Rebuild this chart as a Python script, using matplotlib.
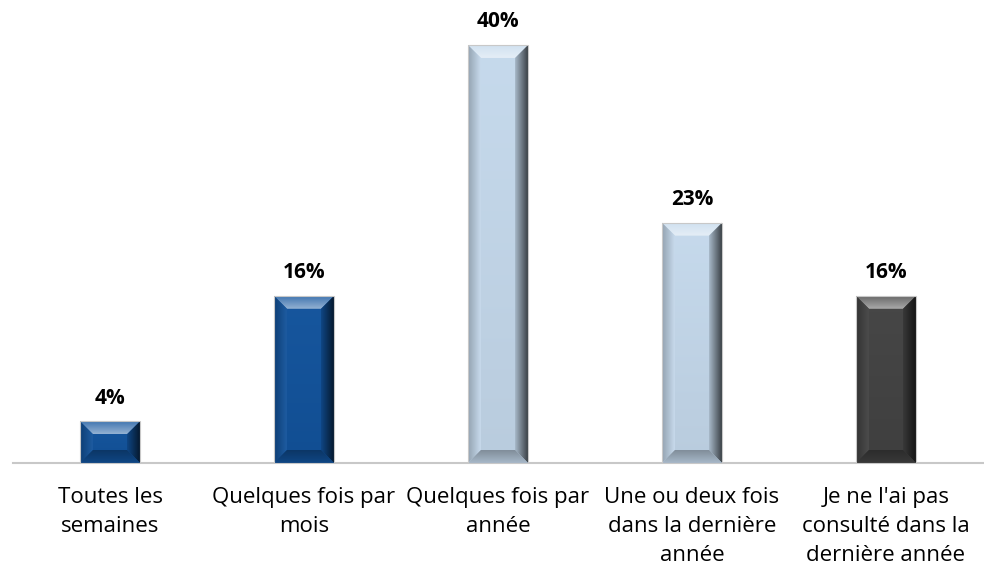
import numpy as np
import matplotlib
matplotlib.use("Agg")
import matplotlib.pyplot as plt
from matplotlib.patches import Polygon
from matplotlib.colors import to_rgb

categories = ["Toutes les\nsemaines", "Quelques fois par\nmois", "Quelques fois par\nannée",
              "Une ou deux fois\ndans la dernière\nannée", "Je ne l'ai pas\nconsulté dans la\ndernière année"]
values = [4, 16, 40, 23, 16]
labels = ["4%", "16%", "40%", "23%", "16%"]
colors = ["#12539C", "#12539C", "#C5D9EC", "#C5D9EC", "#434343"]

plt.rcParams['font.family'] = ['Open Sans', 'DejaVu Sans']

fig = plt.figure(figsize=(9.84, 5.72), dpi=100)
ax = fig.add_axes([13/984, (572-463)/572, 970/984, 463/572])
x = np.arange(len(values))
bars = ax.bar(x, values, width=0.31, color=colors, zorder=2)
ax.set_xlim(-0.5, len(values) - 0.5)
ax.set_ylim(0, 44.3)
fig.canvas.draw()

def mix(c, t, a):
    c = np.array(to_rgb(c)); t = np.array(to_rgb(t))
    return tuple(c * (1 - a) + t * a)

def grad_face(poly, c1, c2, horizontal, z):
    p = Polygon(poly, closed=True, facecolor='none', edgecolor='none', transform=ax.transData)
    ax.add_patch(p)
    xs = [q[0] for q in poly]; ys = [q[1] for q in poly]
    n = 64
    t = np.linspace(0, 1, n)
    col = np.array([mix(c1, c2, v) for v in t])
    if horizontal:
        img = col[np.newaxis, :, :]
    else:
        img = col[::-1][:, np.newaxis, :]
    im = ax.imshow(img, extent=[min(xs), max(xs), min(ys), max(ys)], aspect='auto',
                   interpolation='bilinear', zorder=z)
    im.set_clip_path(p)

inv = ax.transData.inverted()
px_x = (inv.transform((13, 0)) - inv.transform((0, 0)))[0]
px_y = (inv.transform((0, 13)) - inv.transform((0, 0)))[1]

for b, c in zip(bars, colors):
    b.set_visible(False)
    x0, y0, w, h = b.get_x(), b.get_y(), b.get_width(), b.get_height()
    x1, y1 = x0 + w, y0 + h
    bx = min(px_x, w / 3)
    by = min(px_y, h / 3)
    grad_face([(x0, y0), (x1, y0), (x1, y1), (x0, y1)], mix(c, 'black', 0.06), mix(c, 'white', 0.02), False, 3)
    grad_face([(x0, y1), (x1, y1), (x1 - bx, y1 - by), (x0 + bx, y1 - by)],
              mix(c, 'white', 0.55), mix(c, 'white', 0.2), False, 4)
    grad_face([(x0, y0), (x0 + bx, y0 + by), (x0 + bx, y1 - by), (x0, y1)],
              mix(c, 'black', 0.25), mix(c, 'white', 0.05), True, 4)
    grad_face([(x1, y0), (x1, y1), (x1 - bx, y1 - by), (x1 - bx, y0 + by)],
              mix(c, 'black', 0.15), mix(c, 'black', 0.7), True, 4)
    grad_face([(x0, y0), (x1, y0), (x1 - bx, y0 + by), (x0 + bx, y0 + by)],
              mix(c, 'black', 0.15), mix(c, 'black', 0.35), False, 4)
    ax.add_patch(Polygon([(x0, y0), (x1, y0), (x1, y1), (x0, y1)], closed=True,
                         facecolor='none', edgecolor='#C8C8C8', lw=0.8, zorder=5))

for xi, v, lab in zip(x, values, labels):
    ax.annotate(lab, (xi, v), xytext=(0, 9), textcoords='offset points',
                ha='center', va='bottom', fontsize=15, fontweight='bold', color='black')

ax.set_xticks(x)
ax.set_xticklabels(categories, fontsize=16, linespacing=1.52, color='black')
ax.tick_params(axis='x', length=0, pad=17)
ax.set_yticks([])
for s in ['top', 'right', 'left']:
    ax.spines[s].set_visible(False)
ax.spines['bottom'].set_color('#C8C8C8')
ax.spines['bottom'].set_linewidth(1.5)

fig.savefig("out.png", dpi=100)
